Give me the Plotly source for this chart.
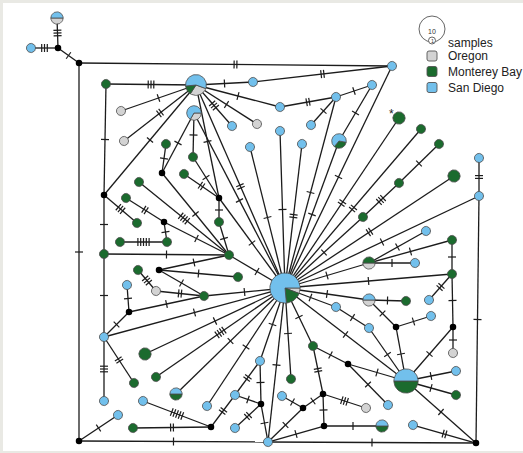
import math
import re
import plotly.graph_objects as go

# ---------------------------------------------------------------------------
# Haplotype network: node layout (x, y), sample composition per haplotype
# (S = San Diego, M = Monterey Bay, O = Oregon; empty = inferred median vector)
# ---------------------------------------------------------------------------
node_id = [
    "a1", "a2", "j1", "j2", "b1", "b2", "g1", "P1", "b3", "b4",
    "b5", "o1", "P2", "g2", "b6", "b7", "o2", "g3", "b8", "b9",
    "b10", "P3", "g4", "o3", "g5", "b11", "g6", "j3", "g7", "g8",
    "g9", "g10", "j4", "b12", "g11", "j5", "g12", "g13", "j6", "g14",
    "b13", "g15", "g16", "g17", "g18", "g19", "P4", "b14", "j7", "g20",
    "g21", "g22", "b15", "H", "o4", "g23", "P5", "g24", "b16", "b17",
    "j8", "b18", "j9", "j10", "b19", "b20", "g25", "o5", "g26", "b21",
    "j11", "b22", "g27", "g28", "P6", "g29", "P7", "j12", "b23", "g30",
    "b24", "b25", "b26", "j13", "b27", "b28", "j14", "o6", "b29", "b30",
    "P8", "j15", "j16", "g31", "b31", "j17", "b32", "j18",
]
node_x = [
    57, 31, 58, 79, 392, 372, 106, 196, 253, 280,
    336, 121, 194, 399, 311, 232, 257, 421, 280, 250,
    302, 339, 439, 124, 166, 479, 193, 162, 184, 454,
    139, 399, 104, 479, 126, 219, 363, 219, 164, 137,
    426, 452, 120, 167, 104, 229, 369, 415, 159, 138,
    452, 238, 127, 285, 156, 204, 369, 406, 429, 336,
    129, 431, 396, 453, 369, 104, 313, 453, 145, 260,
    348, 456, 156, 291, 406, 134, 176, 323, 235, 456,
    282, 104, 143, 261, 388, 207, 303, 366, 118, 413,
    382, 324, 211, 133, 235, 79, 268, 476,
]
node_y = [
    18, 48, 48, 63, 66, 85, 84, 85, 82, 107,
    97, 111, 113, 118, 125, 126, 124, 129, 131, 147,
    144, 141, 144, 141, 144, 158, 157, 173, 174, 176,
    182, 183, 195, 196, 198, 198, 217, 222, 222, 223,
    231, 240, 242, 242, 254, 255, 263, 263, 270, 270,
    274, 277, 285, 288, 291, 296, 300, 301, 300, 307,
    312, 316, 327, 327, 328, 337, 346, 353, 354, 361,
    364, 371, 377, 379, 381, 383, 394, 394, 395, 395,
    396, 401, 401, 404, 405, 406, 408, 408, 415, 425,
    426, 426, 427, 428, 428, 441, 442, 443,
]
node_samples = [
    "S1O1", "S1", "", "", "S1", "S1", "M1", "S4M1O2", "S1", "S1",
    "S1", "O1", "S2O1", "M2", "S1", "S1", "O1", "M1", "S1", "S1",
    "S1", "S2M1", "M1", "O1", "M1", "S1", "M1", "", "M1", "M2",
    "M1", "M1", "", "S1", "M1", "", "M1", "M1", "", "M1",
    "S1", "M1", "M1", "M1", "M1", "M1", "M1O1", "S1", "", "M1",
    "M1", "M1", "S1", "S13M3O1", "O1", "M1", "S1O1", "M1", "S1", "S1",
    "", "S1", "", "", "S1", "S1", "M1", "O1", "M2", "S1",
    "", "S1", "M1", "M1", "S5M5", "M1", "S1M1", "", "S1", "M1",
    "S1", "S1", "S1", "", "S1", "S1", "", "O1", "S1", "S1",
    "S1M1", "", "", "M1", "S1", "", "S1", "",
]

# Links between haplotypes and the number of mutational steps on each
edge_from = [
    "j1", "j1", "j1", "j2", "j2", "j17", "b32", "j18", "b12", "b12",
    "P1", "g1", "P1", "P1", "P1", "b3", "P1", "b4", "P1", "P1",
    "P1", "P1", "P1", "b5", "b5", "b2", "P3", "b5", "b1", "H",
    "H", "H", "H", "H", "g4", "g10", "g12", "H", "P4", "P4",
    "P4", "P4", "g15", "g21", "g21", "g21", "j10", "j10", "P6", "P6",
    "P6", "P6", "P6", "P6", "P6", "j9", "j9", "P5", "P5", "b17",
    "b17", "b30", "P2", "P2", "P2", "g5", "j3", "g7", "g6", "j5",
    "g13", "j5", "g19", "g9", "j6", "g11", "j6", "g16", "j4", "j4",
    "g18", "g18", "b20", "g19", "j7", "j7", "g20", "o4", "b15", "j8",
    "j8", "g23", "b20", "b20", "g26", "g27", "P7", "b28", "b26", "b29",
    "g31", "j16", "b23", "b31", "j13", "j13", "b23", "b21", "b32", "g28",
    "g25", "g25", "g25", "j11", "b24", "j14", "j14", "j12", "j12", "j15",
    "j15",
]
edge_to = [
    "a1", "a2", "j2", "b1", "j17", "b32", "j18", "b12", "b11", "H",
    "g1", "j4", "o1", "o3", "b3", "b1", "b4", "b5", "b7", "o2",
    "j4", "H", "j5", "b6", "b2", "P3", "H", "H", "H", "b8",
    "b9", "b10", "g2", "g3", "g10", "g12", "H", "g8", "H", "b13",
    "b14", "g15", "g21", "H", "b16", "j10", "o5", "P6", "b22", "g30",
    "j18", "j9", "b19", "j11", "H", "P5", "b18", "g24", "H", "H",
    "b19", "j18", "H", "g6", "j3", "j3", "g19", "j5", "j5", "g13",
    "g19", "H", "H", "g19", "g19", "j6", "g17", "g17", "g14", "g18",
    "g19", "b20", "b25", "j7", "g22", "g23", "o4", "g23", "j8", "g23",
    "b20", "H", "H", "g29", "H", "H", "H", "H", "j16", "j17",
    "j16", "b23", "j13", "j13", "b21", "b32", "b21", "H", "H", "H",
    "H", "j12", "j11", "b27", "j14", "j12", "b32", "j15", "o6", "b32",
    "P8",
]
edge_mut = [
    3, 3, 1, 2, 1, 1, 1, 1, 2, 1,
    3, 1, 1, 2, 1, 2, 1, 2, 3, 1,
    1, 2, 1, 1, 1, 1, 1, 1, 1, 1,
    1, 2, 2, 2, 1, 3, 1, 2, 1, 1,
    1, 1, 1, 1, 2, 1, 1, 1, 1, 1,
    1, 1, 1, 1, 1, 1, 1, 1, 1, 1,
    1, 2, 1, 1, 1, 1, 1, 2, 1, 1,
    1, 1, 1, 4, 1, 2, 1, 5, 3, 1,
    1, 1, 3, 1, 1, 1, 3, 2, 1, 1,
    1, 1, 1, 2, 1, 4, 1, 1, 5, 1,
    2, 2, 1, 2, 1, 1, 2, 1, 1, 1,
    1, 2, 1, 1, 1, 1, 1, 1, 3, 1,
    1,
]

pop_names = ["Oregon", "Monterey Bay", "San Diego"]
pop_codes = ["O", "M", "S"]
pop_colors = ["#D3D3D3", "#1B6B2E", "#72C0EC"]

# ---------------------------------------------------------------------------
OUTLINE = "#4a4a4a"
EDGE = "#1c1c1c"
FONT = "Liberation Sans, Arial"
pie_start = {"P1": -20, "P3": -10}        # rotation of a few pies, degrees
draw_order = ["S", "M", "O"]                # slice order around each pie

pos = {nid: (x, y) for nid, x, y in zip(node_id, node_x, node_y)}
comp = {nid: dict((c, int(n)) for c, n in re.findall(r"([SMO])(\d+)", s))
        for nid, s in zip(node_id, node_samples)}


def radius(n):
    return 4.6 * n ** 0.42 if n else 3.0


# edges and mutation hatch marks ---------------------------------------------
ex, ey = [], []
tx, ty = [], []
for a, b, m in zip(edge_from, edge_to, edge_mut):
    (x0, y0), (x1, y1) = pos[a], pos[b]
    ex += [x0, x1, None]
    ey += [y0, y1, None]
    L = math.hypot(x1 - x0, y1 - y0)
    ux, uy = (x1 - x0) / L, (y1 - y0) / L
    px, py = -uy, ux
    mx, my = (x0 + x1) / 2, (y0 + y1) / 2
    for k in range(m):
        t = (k - (m - 1) / 2) * 2.8
        cx, cy = mx + ux * t, my + uy * t
        tx += [cx - px * 4, cx + px * 4, None]
        ty += [cy - py * 4, cy + py * 4, None]

fig = go.Figure()
fig.add_trace(go.Scatter(x=ex, y=ey, mode="lines",
                         line=dict(color=EDGE, width=1.3),
                         hoverinfo="skip", showlegend=False))
fig.add_trace(go.Scatter(x=tx, y=ty, mode="lines",
                         line=dict(color=EDGE, width=1.2),
                         hoverinfo="skip", showlegend=False))

# haplotype pies --------------------------------------------------------------
wedges = {c: ([], []) for c in pop_codes}
jx, jy = [], []
for nid in node_id:
    cx, cy = pos[nid]
    counts = comp[nid]
    total = sum(counts.values())
    if total == 0:
        jx.append(cx)
        jy.append(cy)
        continue
    r = radius(total)
    ang = pie_start.get(nid, 0)
    for code in draw_order:
        n = counts.get(code, 0)
        if not n:
            continue
        span = 360 * n / total
        steps = max(8, int(span / 6))
        xs, ys = wedges[code]
        if n == total:
            for i in range(61):
                th = math.radians(i * 6)
                xs.append(cx + r * math.cos(th))
                ys.append(cy - r * math.sin(th))
        else:
            xs.append(cx)
            ys.append(cy)
            for i in range(steps + 1):
                th = math.radians(ang + span * i / steps)
                xs.append(cx + r * math.cos(th))
                ys.append(cy - r * math.sin(th))
            xs.append(cx)
            ys.append(cy)
        xs.append(None)
        ys.append(None)
        ang += span

for code, col in zip(pop_codes, pop_colors):
    xs, ys = wedges[code]
    fig.add_trace(go.Scatter(x=xs, y=ys, mode="lines", fill="toself",
                             fillcolor=col, line=dict(color=OUTLINE, width=0.8),
                             hoverinfo="skip", showlegend=False))

fig.add_trace(go.Scatter(x=jx, y=jy, mode="markers",
                         marker=dict(color="black", size=6.5, line=dict(width=0)),
                         hoverinfo="skip", showlegend=False))

# asterisk beside one haplotype
annotations = [dict(x=391, y=114, text="*", showarrow=False,
                    font=dict(size=12, color="#222", family=FONT))]

# legend ----------------------------------------------------------------------
shapes = [
    dict(type="circle", xref="x", yref="y", x0=419, x1=445, y0=16, y1=42,
         line=dict(color="#555", width=0.9), fillcolor="white"),
    dict(type="circle", xref="x", yref="y", x0=428.5, x1=435.5, y0=37, y1=44,
         line=dict(color="#555", width=0.9), fillcolor="white"),
]
annotations += [
    dict(x=432, y=31, text="10", showarrow=False,
         font=dict(size=7, color="#333", family=FONT)),
    dict(x=432, y=40.6, text="1", showarrow=False,
         font=dict(size=5.5, color="#333", family=FONT)),
    dict(x=446, y=43, text="samples", showarrow=False, xanchor="left",
         font=dict(size=12, color="#222", family=FONT)),
]
legend_y = [56, 71.5, 87.5]
for name, col, yy in zip(pop_names, pop_colors, legend_y):
    x0, x1, y0, y1, rr = 427, 437, yy - 5, yy + 5, 2
    path = (f"M {x0+rr},{y0} L {x1-rr},{y0} Q {x1},{y0} {x1},{y0+rr} "
            f"L {x1},{y1-rr} Q {x1},{y1} {x1-rr},{y1} L {x0+rr},{y1} "
            f"Q {x0},{y1} {x0},{y1-rr} L {x0},{y0+rr} Q {x0},{y0} {x0+rr},{y0} Z")
    shapes.append(dict(type="path", xref="x", yref="y", path=path,
                       fillcolor=col, line=dict(color="#555", width=0.9)))
    annotations.append(dict(x=446, y=yy, text=name, showarrow=False, xanchor="left",
                            font=dict(size=12, color="#222", family=FONT)))

fig.update_layout(
    width=523, height=453, autosize=False,
    margin=dict(l=3, r=0, t=3, b=2, pad=0),
    paper_bgcolor="#E9E9E4", plot_bgcolor="white",
    xaxis=dict(range=[3, 523], visible=False, fixedrange=True),
    yaxis=dict(range=[451, 3], visible=False, fixedrange=True),
    shapes=shapes, annotations=annotations, showlegend=False,
)

fig.write_html("out.html", config={"displayModeBar": False})
